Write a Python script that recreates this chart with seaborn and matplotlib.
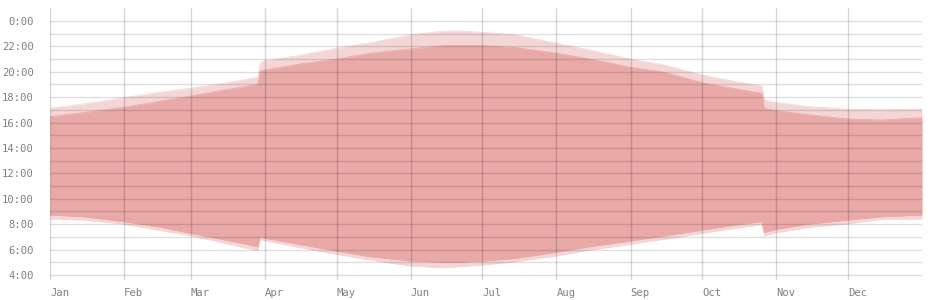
import matplotlib
matplotlib.use("Agg")
import matplotlib.pyplot as plt
from matplotlib.ticker import FixedLocator
import pandas as pd
import seaborn as sns

# ---- data (hours of day) ----
dates = ["2015-01-01", "2015-01-15", "2015-02-01", "2015-02-15", "2015-03-01",
         "2015-03-15", "2015-03-29", "2015-03-30", "2015-04-01", "2015-04-15",
         "2015-05-01", "2015-05-15", "2015-06-01", "2015-06-15", "2015-06-21",
         "2015-07-01", "2015-07-15", "2015-08-01", "2015-08-15", "2015-09-01",
         "2015-09-15", "2015-10-01", "2015-10-15", "2015-10-26", "2015-10-27",
         "2015-11-01", "2015-11-15", "2015-12-01", "2015-12-15", "2016-01-01"]
dusk = [17.13, 17.46, 17.96, 18.36, 18.70, 19.09, 19.57, 20.72, 20.87, 21.27,
        21.85, 22.29, 22.90, 23.21, 23.21, 23.10, 22.90, 22.24, 21.70, 21.00,
        20.53, 19.75, 19.22, 18.88, 17.78, 17.57, 17.25, 17.05, 17.00, 17.07]
sunset = [16.47, 16.78, 17.20, 17.65, 18.09, 18.57, 19.00, 20.06, 20.14, 20.59,
          21.00, 21.46, 21.80, 22.06, 22.06, 22.06, 21.90, 21.46, 21.00, 20.35,
          19.96, 19.14, 18.65, 18.30, 17.13, 16.94, 16.60, 16.28, 16.20, 16.39]
sunrise = [8.72, 8.59, 8.20, 7.80, 7.28, 6.76, 6.23, 7.02, 6.89, 6.42,
           5.89, 5.44, 5.10, 5.00, 5.00, 5.10, 5.31, 5.79, 6.23, 6.68,
           7.07, 7.54, 7.94, 8.20, 7.36, 7.60, 8.02, 8.33, 8.59, 8.72]
dawn = [8.41, 8.33, 8.02, 7.54, 7.10, 6.50, 5.91, 6.81, 6.70, 6.18,
        5.63, 5.18, 4.71, 4.57, 4.65, 4.79, 5.05, 5.50, 5.97, 6.42,
        6.81, 7.28, 7.68, 7.99, 7.07, 7.33, 7.76, 8.04, 8.39, 8.41]

month_starts = ["2015-01-01", "2015-02-01", "2015-03-01", "2015-04-01",
                "2015-05-01", "2015-06-01", "2015-07-01", "2015-08-01",
                "2015-09-01", "2015-10-01", "2015-11-01", "2015-12-01"]
month_labels = ["Jan", "Feb", "Mar", "Apr", "May", "Jun",
                "Jul", "Aug", "Sep", "Oct", "Nov", "Dec"]
hour_ticks = [4, 6, 8, 10, 12, 14, 16, 18, 20, 22, 24]
hour_labels = ["4:00", "6:00", "8:00", "10:00", "12:00", "14:00",
               "16:00", "18:00", "20:00", "22:00", "0:00"]

df = pd.DataFrame({"date": pd.to_datetime(dates), "dawn": dawn,
                   "sunrise": sunrise, "sunset": sunset, "dusk": dusk})

sns.set_theme(style="white")
plt.rcParams["font.family"] = ["DejaVu Sans Mono", "DejaVu Sans"]

LIGHT = "#f5d6d6"
DARK = "#e8a9a7"

fig = plt.figure(figsize=(9.3, 3.0), dpi=100)
ax = fig.add_axes([50 / 930, 1 - 280 / 300, 872 / 930, 272 / 300])

ax.fill_between(df["date"], df["dawn"], df["dusk"], color=LIGHT, lw=0, zorder=1)
ax.fill_between(df["date"], df["sunrise"], df["sunset"], color=DARK, lw=0, zorder=1.1)
for col, c in (("dawn", LIGHT), ("dusk", LIGHT), ("sunrise", DARK), ("sunset", DARK)):
    sns.lineplot(data=df, x="date", y=col, ax=ax, color=c, lw=0.6, zorder=1.2)

ax.set_xlim(pd.Timestamp("2015-01-01"), pd.Timestamp("2016-01-01"))
ax.set_ylim(3.606, 25.02)

ax.set_xticks(pd.to_datetime(month_starts))
ax.set_xticklabels(month_labels)
ax.set_yticks(hour_ticks)
ax.set_yticklabels(hour_labels)
ax.yaxis.set_minor_locator(FixedLocator([5, 7, 9, 11, 13, 15, 17, 19, 21, 23]))

ax.set_xlabel("")
ax.set_ylabel("")
for s in ax.spines.values():
    s.set_visible(False)

ax.set_axisbelow(False)
ax.grid(False)
ax.xaxis.grid(True, which="major", color="black", alpha=0.16, lw=1)
ax.yaxis.grid(True, which="major", color="black", alpha=0.13, lw=1)
ax.yaxis.grid(True, which="minor", color="black", alpha=0.13, lw=1)

ax.tick_params(axis="both", which="both", length=0, labelsize=7.6, labelcolor="#808080")
ax.tick_params(axis="y", pad=11.5)
ax.tick_params(axis="x", pad=6)
for lbl in ax.get_xticklabels():
    lbl.set_horizontalalignment("left")

fig.savefig("out.png", dpi=100)
